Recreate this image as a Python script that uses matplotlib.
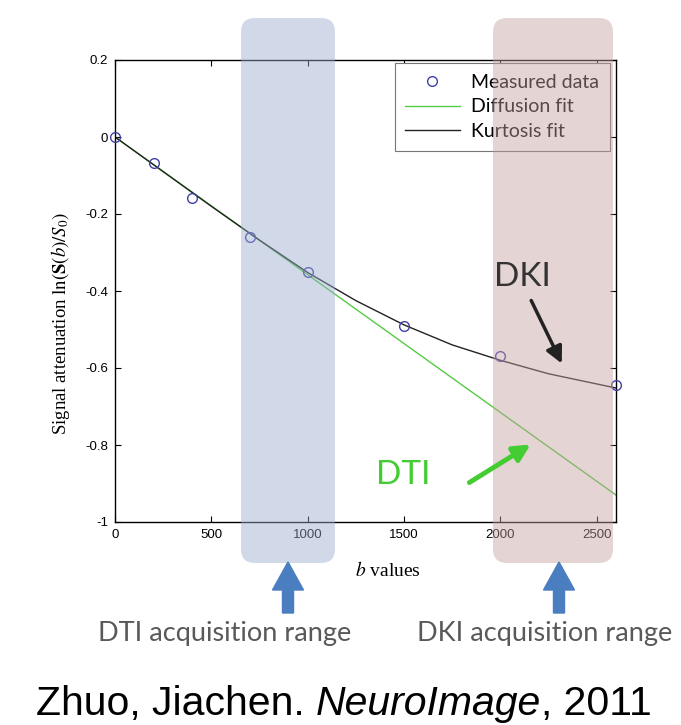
import numpy as np
import matplotlib
matplotlib.use("Agg")
import matplotlib.pyplot as plt
import matplotlib.patches as mpatches
from matplotlib.transforms import IdentityTransform

# measured signal attenuation
b_meas = [0, 200, 400, 700, 1000, 1500, 2000, 2600]
s_meas = [0.0, -0.067, -0.159, -0.26, -0.35, -0.49, -0.57, -0.645]

# diffusion (mono-exponential) fit
b_dti = [0, 2600]
s_dti = [0.0, -0.93]

# kurtosis fit
b_dki = [0, 250, 500, 750, 1000, 1250, 1500, 1750, 2000, 2250, 2600]
s_dki = [0.0, -0.09, -0.18, -0.268, -0.352, -0.425, -0.488, -0.54, -0.58, -0.615, -0.652]

x_ticks = [0, 500, 1000, 1500, 2000, 2500]
y_ticks = [0.2, 0, -0.2, -0.4, -0.6, -0.8, -1]
y_labels = ["0.2", "0", "-0.2", "-0.4", "-0.6", "-0.8", "-1"]

W, H = 681, 725
plt.rcParams['mathtext.fontset'] = 'stix'

fig = plt.figure(figsize=(W / 100, H / 100), dpi=100)
ax = fig.add_axes([115 / W, 1 - 522 / H, 501 / W, 462 / H])

ax.plot(b_dti, s_dti, color='#55cc44', lw=1.0, label='Diffusion fit')
ax.plot(b_dki, s_dki, color='#222222', lw=1.0, label='Kurtosis fit')
ax.plot(b_meas, s_meas, 'o', ms=7, mfc='none', mec='#4040a8', mew=1.0,
        label='Measured data', clip_on=False, zorder=5)

ax.set_xlim(0, 2600)
ax.set_ylim(-1, 0.2)
ax.set_xticks(x_ticks)
ax.set_xticklabels([str(t) for t in x_ticks])
ax.set_yticks(y_ticks)
ax.set_yticklabels(y_labels)
ax.tick_params(direction='in', top=True, right=True, labelsize=9.5, length=4, pad=5)
for lab in ax.get_xticklabels() + ax.get_yticklabels():
    lab.set_family('Liberation Sans')
for s in ax.spines.values():
    s.set_linewidth(1.0)

ax.set_xlabel(r'$b$ values', family='Liberation Serif', fontsize=14, va='center')
ax.xaxis.set_label_coords((388 - 115) / 501, (522 - 570) / 462)
ax.set_ylabel(r'Signal attenuation $\ln(\mathbf{S}(b)/S_0)$',
              family='Liberation Serif', fontsize=13.5, va='center')
ax.yaxis.set_label_coords((60 - 115) / 501, (522 - 323) / 462)

h, l = ax.get_legend_handles_labels()
leg = ax.legend([h[2], h[0], h[1]], [l[2], l[0], l[1]], loc='upper right',
                bbox_to_anchor=((610 - 115) / 501, (522 - 63) / 462), fancybox=False,
                edgecolor='#777777', prop={'family': 'Lato', 'size': 14},
                handlelength=2.8, handletextpad=0.6, borderpad=0.55,
                labelspacing=0.4, framealpha=1, borderaxespad=0)
leg.get_frame().set_linewidth(0.8)

# shaded acquisition ranges (pixel coords, y from top)
def band(x0, x1, color):
    p = mpatches.FancyBboxPatch((x0, H - 563), x1 - x0, 563 - 18,
                                boxstyle='round,pad=0,rounding_size=14',
                                transform=IdentityTransform(), facecolor=color,
                                edgecolor='none', alpha=0.45, zorder=10)
    fig.add_artist(p)

band(241, 335, '#9aabce')
band(493, 613, '#c4a0a0')

def up_arrow(xc):
    a = mpatches.FancyArrow(xc, H - 613, 0, 51, width=11, head_width=31,
                            head_length=28, length_includes_head=True,
                            transform=IdentityTransform(), color='#4a7ec0',
                            zorder=11)
    fig.add_artist(a)

up_arrow(288)
up_arrow(559)

def ftext(x, y, s, **kw):
    return fig.text(x / W, 1 - y / H, s, **kw)

ftext(225, 633, 'DTI acquisition range', family='Lato', fontsize=19.5,
      color='#595959', ha='center', va='center')
ftext(545, 633, 'DKI acquisition range', family='Lato', fontsize=19.5,
      color='#595959', ha='center', va='center')

# citation, pieced together so the journal name is italic
cite_fs = 29.5
t1 = ftext(36, 715, 'Zhuo, Jiachen. ', family='Liberation Sans', fontsize=cite_fs,
           color='black', ha='left', va='baseline')
t2 = ax.annotate('NeuroImage', xy=(1, 0), xycoords=t1, va='bottom', ha='left',
                 family='Liberation Sans', style='italic', fontsize=cite_fs,
                 color='black', annotation_clip=False)
ax.annotate(', 2011', xy=(1, 0), xycoords=t2, va='bottom', ha='left',
            family='Liberation Sans', fontsize=cite_fs, color='black',
            annotation_clip=False)

ftext(522, 277, 'DKI', family='Lato', fontsize=24, color='#333333',
      ha='center', va='center', zorder=12)
ftext(403, 475, 'DTI', family='Lato', fontsize=24, color='#44cc33',
      ha='center', va='center', zorder=12)

fig.add_artist(mpatches.FancyArrowPatch((530 / W, 1 - 298 / H), (563 / W, 1 - 366 / H),
                                        transform=fig.transFigure,
                                        arrowstyle='-|>,head_length=10,head_width=5',
                                        color='#222222', lw=2.5, zorder=12))
fig.add_artist(mpatches.FancyArrowPatch((467 / W, 1 - 484 / H), (533 / W, 1 - 443 / H),
                                        transform=fig.transFigure,
                                        arrowstyle='-|>,head_length=10,head_width=5',
                                        color='#44cc33', lw=3.5, zorder=12))

fig.savefig('out.png', dpi=100, facecolor='white')
